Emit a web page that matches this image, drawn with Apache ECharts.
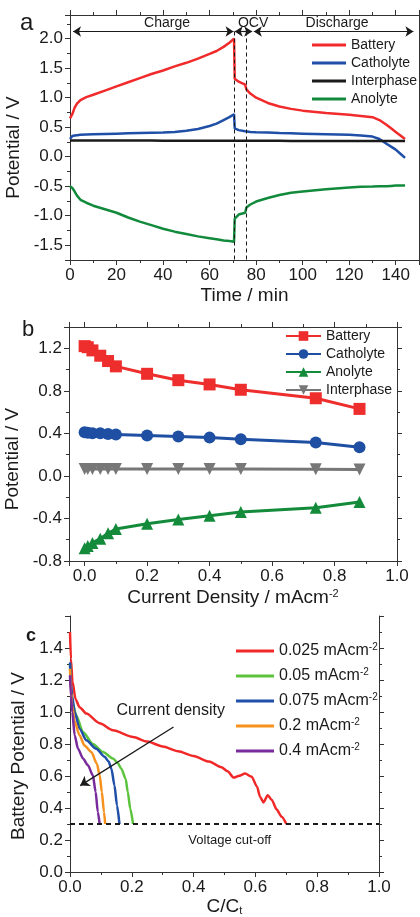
<!DOCTYPE html>
<html>
<head>
<meta charset="utf-8">
<title>Battery potentials</title>
<script src="https://cdn.jsdelivr.net/npm/echarts@6.0.0/dist/echarts.min.js"></script>
<style>
  html, body { margin: 0; padding: 0; background: #fff; }
  #chart { width: 420px; height: 917px; }
</style>
</head>
<body>
<div id="chart"></div>
<script>
// ---- panel a: potential vs time ----
const timeA = [0, 1, 2, 3, 4.5, 7, 10, 15, 20, 25, 30, 35, 40, 45, 50, 55, 60, 63, 66, 68.5, 70.5,
  70.8, 72.5, 75.3, 75.8, 77.5, 80, 85, 90, 95, 100, 110, 120, 125, 130, 133, 136, 138, 140, 142, 144]
const batteryA = [0.65, 0.72, 0.83, 0.9, 0.96, 1.01, 1.05, 1.12, 1.19, 1.26, 1.33, 1.4, 1.46, 1.53, 1.59, 1.66, 1.74, 1.79, 1.86, 1.93, 2.0,
  1.32, 1.27, 1.22, 1.14, 1.07, 1.0, 0.91, 0.85, 0.81, 0.78, 0.74, 0.71, 0.69, 0.67, 0.62, 0.54, 0.48, 0.42, 0.36, 0.3]
const catholyteA = [0.3, 0.35, 0.36, 0.365, 0.37, 0.375, 0.38, 0.385, 0.39, 0.395, 0.4, 0.405, 0.41, 0.42, 0.44, 0.47, 0.52, 0.56, 0.62, 0.67, 0.72,
  0.48, 0.45, 0.43, 0.425, 0.42, 0.415, 0.41, 0.4, 0.395, 0.39, 0.38, 0.37, 0.36, 0.34, 0.3, 0.22, 0.17, 0.12, 0.05, -0.02]
const interphaseA = [0.275, 0.275, 0.275, 0.275, 0.275, 0.275, 0.275, 0.275, 0.274, 0.274, 0.273, 0.273, 0.272, 0.272, 0.271, 0.271, 0.27, 0.27, 0.27, 0.27, 0.27,
  0.27, 0.27, 0.27, 0.27, 0.269, 0.269, 0.268, 0.268, 0.267, 0.267, 0.266, 0.266, 0.266, 0.265, 0.265, 0.265, 0.265, 0.265, 0.265, 0.265]
const anolyteA = [-0.5, -0.53, -0.59, -0.66, -0.73, -0.78, -0.83, -0.89, -0.95, -1.03, -1.1, -1.16, -1.22, -1.27, -1.31, -1.35, -1.38, -1.4, -1.42, -1.43, -1.44,
  -1.05, -0.98, -0.95, -0.86, -0.81, -0.76, -0.7, -0.65, -0.61, -0.59, -0.55, -0.52, -0.51, -0.505, -0.5, -0.5, -0.495, -0.49, -0.49, -0.49]

// ---- panel b: potential vs current density ----
const currentB = [0, 0.01, 0.025, 0.05, 0.075, 0.1, 0.2, 0.3, 0.4, 0.5, 0.74, 0.88]
const batteryB = [1.22, 1.21, 1.18, 1.13, 1.08, 1.03, 0.96, 0.9, 0.86, 0.81, 0.73, 0.63]
const catholyteB = [0.41, 0.405, 0.4, 0.4, 0.395, 0.39, 0.38, 0.37, 0.36, 0.345, 0.315, 0.27]
const anolyteB = [-0.68, -0.66, -0.63, -0.59, -0.54, -0.5, -0.45, -0.41, -0.375, -0.34, -0.3, -0.245]
const interphaseB = [0.065, 0.065, 0.065, 0.065, 0.065, 0.065, 0.065, 0.065, 0.065, 0.065, 0.063, 0.06]

// ---- panel c: discharge curves ----
const densitiesC = ['0.025', '0.05', '0.075', '0.2', '0.4']
const cap025 = [0, 0.003, 0.008, 0.018, 0.031, 0.053, 0.096, 0.139, 0.204, 0.25, 0.3, 0.35, 0.4, 0.45, 0.49, 0.51, 0.53,
  0.545, 0.567, 0.588, 0.605, 0.615, 0.626, 0.64, 0.653, 0.669, 0.685, 0.7]
const pot025 = [1.5, 1.33, 1.19, 1.08, 1.03, 0.99, 0.93, 0.886, 0.844, 0.815, 0.785, 0.755, 0.725, 0.69, 0.655, 0.63, 0.59,
  0.6, 0.615, 0.595, 0.535, 0.47, 0.435, 0.48, 0.45, 0.39, 0.345, 0.3]
const cap05 = [0, 0.003, 0.008, 0.02, 0.042, 0.074, 0.107, 0.139, 0.155, 0.166, 0.18, 0.187, 0.195, 0.204]
const pot05 = [1.3, 1.15, 1.06, 0.98, 0.875, 0.8, 0.75, 0.71, 0.68, 0.646, 0.583, 0.5, 0.396, 0.3]
const cap075 = [0, 0.003, 0.007, 0.015, 0.031, 0.053, 0.085, 0.112, 0.125, 0.134, 0.144, 0.152, 0.16]
const pot075 = [1.31, 1.18, 1.1, 1.0, 0.896, 0.823, 0.77, 0.72, 0.69, 0.646, 0.54, 0.417, 0.3]
const cap2 = [0, 0.003, 0.007, 0.015, 0.031, 0.047, 0.069, 0.087, 0.096, 0.103, 0.11, 0.114]
const pot2 = [1.27, 1.13, 1.04, 0.94, 0.854, 0.79, 0.75, 0.677, 0.604, 0.5, 0.375, 0.3]
const cap4 = [0, 0.003, 0.0074, 0.015, 0.026, 0.042, 0.058, 0.074, 0.083, 0.09, 0.096]
const pot4 = [1.23, 1.1, 1.0, 0.854, 0.77, 0.71, 0.667, 0.604, 0.5, 0.375, 0.3]
const cutoffV = 0.3

const FONT = '"Liberation Sans", Arial, sans-serif'
const INK = '#1a1a1a'

function pairs(xs, ys) {
  return xs.map((x, i) => [x, ys[i]])
}

function fixedLabel(step, digits, lo, hi) {
  return function (v) {
    const k = v / step
    if (Math.abs(k - Math.round(k)) > 1e-6 || v < lo - 1e-9 || v > hi + 1e-9) return ''
    return v.toFixed(digits)
  }
}

// one value axis of a framed box; labels only on the main sides
function axis(grid, pos, min, max, opt) {
  opt = opt || {}
  return {
    type: 'value',
    gridIndex: grid,
    position: pos,
    min: min,
    max: max,
    interval: opt.interval,
    splitNumber: opt.splitNumber,
    name: opt.name,
    nameLocation: 'middle',
    nameGap: opt.nameGap,
    nameTextStyle: Object.assign({ color: INK, fontFamily: FONT, fontSize: 19 }, opt.nameStyle || {}),
    splitLine: { show: false },
    axisLine: { show: opt.line !== false, onZero: false, lineStyle: { color: '#333', width: 1 } },
    axisTick: { show: opt.line !== false, inside: false, length: 5, lineStyle: { color: '#333' } },
    minorTick: { show: opt.line !== false, splitNumber: 2, length: 3, lineStyle: { color: '#333' } },
    axisLabel: {
      show: !!opt.formatter,
      formatter: opt.formatter,
      color: INK,
      fontFamily: FONT,
      fontSize: opt.fontSize || 16,
      margin: 7,
      showMinLabel: true,
      showMaxLabel: true
    }
  }
}

const supRich = {
  n: { fontFamily: FONT, fontSize: 19, color: INK },
  s: { fontFamily: FONT, fontSize: 11, color: INK, verticalAlign: 'top', padding: [0, 0, 8, 0] },
  t: { fontFamily: FONT, fontSize: 11, color: INK, padding: [10, 0, 0, 0] }
}

const chart = echarts.init(document.getElementById('chart'), null, { renderer: 'canvas' })

const lineA = (name, ys, color) => ({
  name: name, type: 'line', xAxisIndex: 0, yAxisIndex: 0,
  data: pairs(timeA, ys), showSymbol: false, symbol: 'none',
  lineStyle: { color: color, width: 2.5 }, itemStyle: { color: color }, z: 3
})

const lineB = (name, ys, color, symbol, rotate) => ({
  name: name, type: 'line', xAxisIndex: 2, yAxisIndex: 2,
  data: pairs(currentB, ys), symbol: symbol, symbolSize: 12, symbolRotate: rotate || 0,
  lineStyle: { color: color, width: 3 }, itemStyle: { color: color }
})

const lineC = (name, xs, ys, color) => ({
  name: name, type: 'line', xAxisIndex: 4, yAxisIndex: 4,
  data: pairs(xs, ys), symbol: 'none', smooth: 0.25, smoothMonotone: 'x',
  lineStyle: { color: color, width: 2.5 }, itemStyle: { color: color }
})

const arrowTop = 2.12
const annotA = {
  type: 'line', xAxisIndex: 0, yAxisIndex: 0, data: [], silent: true,
  markLine: {
    silent: true, animation: false,
    lineStyle: { color: INK, width: 1.2, type: 'solid' },
    symbol: ['arrow', 'arrow'], symbolSize: 8,
    label: { show: false },
    data: [
      [{ coord: [1.3, arrowTop] }, { coord: [70.3, arrowTop] }],
      [{ coord: [70.8, arrowTop] }, { coord: [78.3, arrowTop] }],
      [{ coord: [79.0, arrowTop] }, { coord: [147.6, arrowTop] }],
      [{ coord: [70.8, arrowTop], symbol: 'none', lineStyle: { type: [4, 3], width: 1 } },
       { coord: [70.8, -1.75], symbol: 'none' }],
      [{ coord: [75.8, arrowTop], symbol: 'none', lineStyle: { type: [4, 3], width: 1 } },
       { coord: [75.8, -1.75], symbol: 'none' }]
    ]
  },
  markPoint: {
    silent: true, animation: false, symbolSize: 0,
    label: { show: true, position: 'inside', color: INK, fontFamily: FONT, fontSize: 14 },
    data: [
      { coord: [41.7, 2.27], label: { formatter: 'Charge' } },
      { coord: [78.7, 2.27], label: { formatter: 'OCV' } },
      { coord: [114.8, 2.27], label: { formatter: 'Discharge' } }
    ]
  }
}

const annotC = {
  type: 'line', xAxisIndex: 4, yAxisIndex: 4, data: [], silent: true,
  markLine: {
    silent: true, animation: false,
    symbol: 'none',
    label: { show: false },
    data: [
      [{ coord: [0, cutoffV], lineStyle: { color: INK, width: 2, type: [5, 4] } }, { coord: [1, cutoffV] }],
      [{ coord: [0.335, 0.906], symbol: 'none', lineStyle: { color: INK, width: 1.3, type: 'solid' } },
       { coord: [0.033, 0.54], symbol: 'arrow', symbolSize: 9 }]
    ]
  },
  markPoint: {
    silent: true, animation: false, symbolSize: 0,
    label: { show: true, position: 'inside', color: INK, fontFamily: FONT },
    data: [
      { coord: [0.326, 1.01], label: { formatter: 'Current density', fontSize: 16 } },
      { coord: [0.517, 0.2], label: { formatter: 'Voltage cut-off', fontSize: 13 } }
    ]
  }
}

const option = {
  animation: false,
  backgroundColor: '#ffffff',
  textStyle: { fontFamily: FONT },
  title: [
    { text: 'a', left: 15, top: 6, textStyle: { fontFamily: FONT, fontSize: 24, fontWeight: 'normal', color: INK } },
    { text: 'b', left: 17, top: 314, textStyle: { fontFamily: FONT, fontSize: 22, fontWeight: 'normal', color: INK } },
    { text: 'c', left: 21, top: 622, textStyle: { fontFamily: FONT, fontSize: 18, fontWeight: 'bold', color: INK } }
  ],
  grid: [
    { left: 70, top: 15, width: 349, height: 245, containLabel: false, outerBoundsMode: 'none' },
    { left: 69, top: 327, width: 328, height: 234, containLabel: false, outerBoundsMode: 'none' },
    { left: 70, top: 616, width: 309, height: 256, containLabel: false, outerBoundsMode: 'none' }
  ],
  xAxis: [
    axis(0, 'bottom', 0, 150, { interval: 20, formatter: fixedLabel(20, 0, 0, 140),
      name: 'Time / min', nameGap: 26, fontSize: 17 }),
    axis(0, 'top', 0, 150, { interval: 20 }),
    axis(1, 'bottom', -0.05, 1.0, { splitNumber: 5, formatter: fixedLabel(0.2, 1, 0, 1),
      name: '{n|Current Density / mAcm}{s|-2}', nameGap: 27, nameStyle: { rich: supRich }, fontSize: 17 }),
    axis(1, 'top', -0.05, 1.0, { splitNumber: 5 }),
    axis(2, 'bottom', 0, 1.0, { interval: 0.2, formatter: fixedLabel(0.2, 1, 0, 1),
      name: '{n|C/C}{t|t}', nameGap: 21, nameStyle: { rich: supRich }, fontSize: 17 }),
    axis(2, 'top', 0, 1.0, { interval: 0.2, line: false })
  ],
  yAxis: [
    axis(0, 'left', -1.75, 2.4, { splitNumber: 8, formatter: fixedLabel(0.5, 1, -1.5, 2.0),
      name: 'Potential / V', nameGap: 37, fontSize: 17, nameStyle: { padding: [0, 20, 0, 0] } }),
    axis(0, 'right', -1.75, 2.4, { splitNumber: 8 }),
    axis(1, 'left', -0.8, 1.4, { interval: 0.4, formatter: fixedLabel(0.4, 1, -0.8, 1.2),
      name: 'Potential / V', nameGap: 37, fontSize: 17, nameStyle: { padding: [0, 30, 0, 0] } }),
    axis(1, 'right', -0.8, 1.4, { interval: 0.4 }),
    axis(2, 'left', 0, 1.6, { interval: 0.2, formatter: fixedLabel(0.2, 1, 0, 1.4),
      name: 'Battery Potential / V', nameGap: 38, fontSize: 17, nameStyle: { padding: [0, 24, 0, 0] } }),
    axis(2, 'right', 0, 1.6, { interval: 0.2 })
  ],
  legend: [
    {
      data: ['Battery', 'Catholyte', 'Interphase', 'Anolyte'],
      orient: 'vertical', left: 307, top: 33, padding: 5, icon: 'rect', itemWidth: 34, itemHeight: 3, itemGap: 4,
      textStyle: { fontFamily: FONT, fontSize: 14, color: INK }, selectedMode: false
    },
    {
      data: ['Battery ', 'Catholyte ', 'Anolyte ', 'Interphase '],
      orient: 'vertical', left: 280, top: 324, padding: 5, itemWidth: 35, itemHeight: 12, itemGap: 4,
      textStyle: { fontFamily: FONT, fontSize: 14, color: INK }, selectedMode: false
    },
    {
      data: densitiesC,
      orient: 'vertical', left: 231, top: 637, padding: 5, icon: 'rect', itemWidth: 38, itemHeight: 3, itemGap: 8,
      formatter: (name) => '{n|' + name + ' mAcm}{s|-2}',
      textStyle: {
        color: INK,
        rich: {
          n: { fontFamily: FONT, fontSize: 16, color: INK },
          s: { fontFamily: FONT, fontSize: 10, color: INK, verticalAlign: 'top', padding: [0, 0, 8, 0] }
        }
      },
      selectedMode: false
    }
  ],
  series: [
    lineA('Battery', batteryA, '#f12b2b'),
    lineA('Catholyte', catholyteA, '#1f4fa6'),
    lineA('Interphase', interphaseA, '#1a1a1a'),
    lineA('Anolyte', anolyteA, '#128a3c'),
    annotA,
    lineB('Battery ', batteryB, '#ee2d2d', 'rect'),
    lineB('Catholyte ', catholyteB, '#1f4fa3', 'circle'),
    lineB('Anolyte ', anolyteB, '#138b3b', 'triangle'),
    lineB('Interphase ', interphaseB, '#777777', 'triangle', 180),
    lineC(densitiesC[0], cap025, pot025, '#f02828'),
    lineC(densitiesC[1], cap05, pot05, '#5cc43c'),
    lineC(densitiesC[2], cap075, pot075, '#1f4fa8'),
    lineC(densitiesC[3], cap2, pot2, '#f7911e'),
    lineC(densitiesC[4], cap4, pot4, '#7a2b9b'),
    annotC
  ]
}

chart.setOption(option)
</script>
</body>
</html>
